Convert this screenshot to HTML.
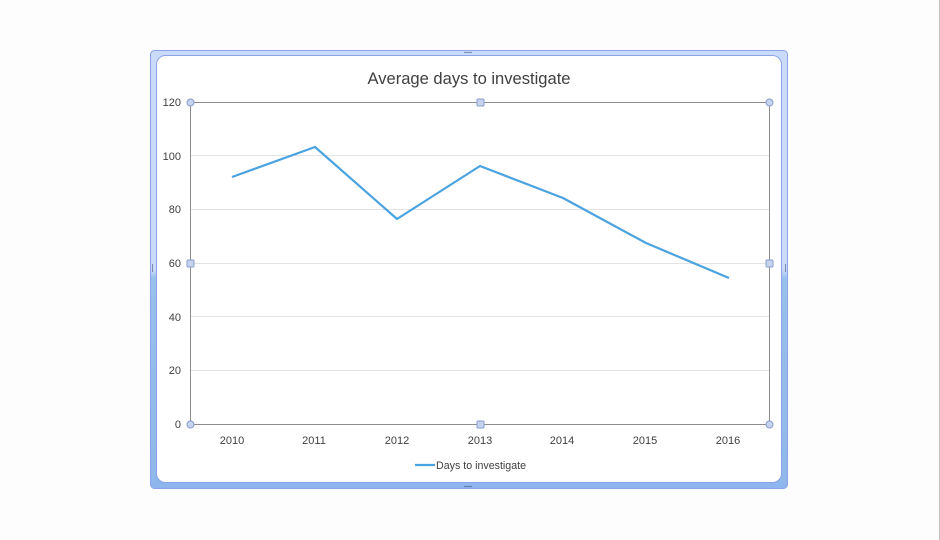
<!DOCTYPE html>
<html><head><meta charset="utf-8"><style>
html,body{margin:0;padding:0;background:#fdfdfd;}
body{width:940px;height:540px;overflow:hidden;position:relative;font-family:"Liberation Sans",sans-serif;}
</style></head><body>
<svg width="940" height="540" viewBox="0 0 940 540" xmlns="http://www.w3.org/2000/svg" style="position:absolute;left:0;top:0">
<defs>
<linearGradient id="side" x1="0" y1="0" x2="0" y2="1">
<stop offset="0" stop-color="#cadbfa"/>
<stop offset="0.5" stop-color="#cadbfa"/>
<stop offset="0.52" stop-color="#98c0ec"/>
<stop offset="1" stop-color="#8fb8ea"/>
</linearGradient>
</defs>
<rect x="0" y="0" width="940" height="540" fill="#fdfdfd"/>
<line x1="939.5" y1="0" x2="939.5" y2="540" stroke="#c4c4c4" stroke-width="1"/>
<!-- frame -->
<rect x="150.5" y="50.5" width="637" height="438" rx="4" fill="url(#side)" stroke="#8aa3ea" stroke-width="1"/>
<rect x="151.5" y="482" width="635" height="6" fill="#8fb5ee"/>
<rect x="156.5" y="55.5" width="625" height="427" rx="9" fill="#ffffff" stroke="#8aa3ea" stroke-width="1"/>
<!-- grip dots -->
<g fill="#3a4a70">
<circle cx="465" cy="52.5" r="0.6"/><circle cx="467" cy="52.5" r="0.6"/><circle cx="469" cy="52.5" r="0.6"/><circle cx="471" cy="52.5" r="0.6"/>
<circle cx="465" cy="486.5" r="0.6"/><circle cx="467" cy="486.5" r="0.6"/><circle cx="469" cy="486.5" r="0.6"/><circle cx="471" cy="486.5" r="0.6"/>
<circle cx="152.5" cy="265" r="0.6"/><circle cx="152.5" cy="267" r="0.6"/><circle cx="152.5" cy="269" r="0.6"/><circle cx="152.5" cy="271" r="0.6"/>
<circle cx="785.5" cy="265" r="0.6"/><circle cx="785.5" cy="267" r="0.6"/><circle cx="785.5" cy="269" r="0.6"/><circle cx="785.5" cy="271" r="0.6"/>
</g>
<!-- title -->
<text x="469" y="84" text-anchor="middle" font-size="17" fill="#404040" textLength="203" lengthAdjust="spacingAndGlyphs">Average days to investigate</text>
<!-- gridlines -->
<g stroke="#e3e3e3" stroke-width="1">
<line x1="190" y1="155.5" x2="769" y2="155.5"/>
<line x1="190" y1="209.5" x2="769" y2="209.5"/>
<line x1="190" y1="263.5" x2="769" y2="263.5"/>
<line x1="190" y1="316.5" x2="769" y2="316.5"/>
<line x1="190" y1="370.5" x2="769" y2="370.5"/>
</g>
<!-- plot area border -->
<rect x="190.5" y="102.5" width="579" height="322" fill="none" stroke="#8c8c8c" stroke-width="1"/>
<!-- y labels -->
<g font-size="11" fill="#404040" text-anchor="end">
<text x="181" y="106">120</text>
<text x="181" y="160">100</text>
<text x="181" y="213">80</text>
<text x="181" y="267">60</text>
<text x="181" y="321">40</text>
<text x="181" y="374">20</text>
<text x="181" y="428">0</text>
</g>
<!-- x labels -->
<g font-size="11" fill="#404040" text-anchor="middle">
<text x="232" y="444">2010</text>
<text x="314" y="444">2011</text>
<text x="397" y="444">2012</text>
<text x="480" y="444">2013</text>
<text x="562" y="444">2014</text>
<text x="645" y="444">2015</text>
<text x="728" y="444">2016</text>
</g>
<!-- series -->
<polyline points="232,177 315,147 397,219 480,166 563,198 646,243 729,278" fill="none" stroke="#4aa3df" stroke-width="2.2" stroke-linejoin="round"/>
<!-- handles -->
<g fill="#c8d3ef" stroke="#8a9ccc" stroke-width="1">
<circle cx="190.5" cy="102.5" r="3.5"/>
<circle cx="769.5" cy="102.5" r="3.5"/>
<circle cx="190.5" cy="424.5" r="3.5"/>
<circle cx="769.5" cy="424.5" r="3.5"/>
<rect x="477" y="99" width="7" height="7" rx="1"/>
<rect x="477" y="421" width="7" height="7" rx="1"/>
<rect x="187" y="260" width="7" height="7" rx="1"/>
<rect x="766" y="260" width="7" height="7" rx="1"/>
</g>
<!-- legend -->
<line x1="415" y1="465" x2="435" y2="465" stroke="#4aa3df" stroke-width="2.2"/>
<text x="436" y="469" font-size="11" fill="#404040" textLength="90" lengthAdjust="spacingAndGlyphs">Days to investigate</text>
</svg>
</body></html>
